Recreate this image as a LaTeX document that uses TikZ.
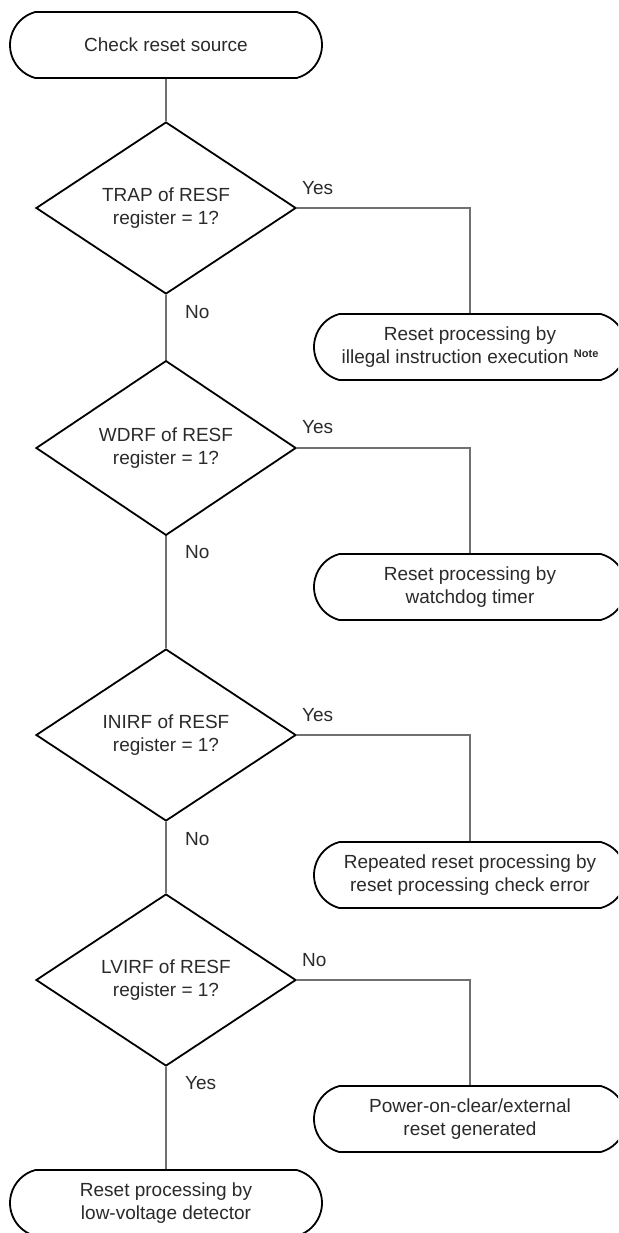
\documentclass[tikz,border=0pt]{standalone}
\usepackage{fontspec}
\setmainfont{Liberation Sans}
\usetikzlibrary{shapes.misc,shapes.geometric}
\definecolor{txt}{HTML}{2A2A2A}
\definecolor{conn}{HTML}{707070}
\tikzset{
  term/.style={rounded rectangle, rounded rectangle arc length=150, draw=black, line width=1.8pt, minimum width=312pt, minimum height=66pt, inner sep=0pt, align=center, text=txt, font=\fontsize{19}{23}\selectfont},
  decide/.style={diamond, draw=black, line width=1.8pt, minimum width=260pt, minimum height=172pt, inner sep=0pt, align=center, text=txt, font=\fontsize{19}{23}\selectfont},
  lbl/.style={inner sep=0pt, text=txt, font=\fontsize{19}{23}\selectfont},
  conn/.style={draw=conn, line width=1.3pt},
}
\newcommand{\notemark}{\raisebox{6pt}{\fontsize{11}{11}\selectfont\bfseries Note}}
\begin{document}
\begin{tikzpicture}[x=1pt,y=-1pt]
\useasboundingbox (0,0) rectangle (618,1233);
\clip (0,0) rectangle (618,1233);
\node[term] (start) at (166,45) {Check reset source};
\node[decide] (d1) at (166,208) {TRAP of RESF\\register = 1?};
\node[term] (r1) at (470,347) {Reset processing by\\illegal instruction execution \notemark};
\node[decide] (d2) at (166,448) {WDRF of RESF\\register = 1?};
\node[term] (r2) at (470,587) {Reset processing by\\watchdog timer};
\node[decide] (d3) at (166,735) {INIRF of RESF\\register = 1?};
\node[term] (r3) at (470,875) {Repeated reset processing by\\reset processing check error};
\node[decide] (d4) at (166,980) {LVIRF of RESF\\register = 1?};
\node[term] (r4) at (470,1119) {Power-on-clear/external\\reset generated};
\node[term] (end) at (166,1203) {Reset processing by\\low-voltage detector};

\draw[conn] (start.south) -- (d1.north);
\draw[conn] (d1.east) -| (r1.north);
\draw[conn] (d1.south) -- (d2.north);
\draw[conn] (d2.east) -| (r2.north);
\draw[conn] (d2.south) -- (d3.north);
\draw[conn] (d3.east) -| (r3.north);
\draw[conn] (d3.south) -- (d4.north);
\draw[conn] (d4.east) -| (r4.north);
\draw[conn] (d4.south) -- (end.north);

\node[lbl, anchor=west] (y1) at (302,188) {Yes};
\node[lbl, anchor=west] (n1) at (185,312) {No};
\node[lbl, anchor=west] (y2) at (302,427) {Yes};
\node[lbl, anchor=west] (n2) at (185,552) {No};
\node[lbl, anchor=west] (y3) at (302,715) {Yes};
\node[lbl, anchor=west] (n3) at (185,839) {No};
\node[lbl, anchor=west] (n4) at (302,960) {No};
\node[lbl, anchor=west] (y4) at (185,1083) {Yes};
\end{tikzpicture}
\end{document}
